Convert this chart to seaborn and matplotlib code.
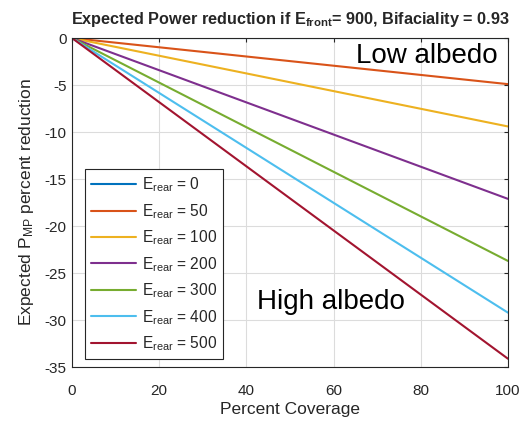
import matplotlib
matplotlib.use("Agg")
import matplotlib.pyplot as plt
import seaborn as sns
import pandas as pd

coverage = [0, 100]
e_rear = [0, 50, 100, 200, 300, 400, 500]
reduction_at_full = [0.0, -4.9, -9.4, -17.1, -23.7, -29.2, -34.1]
colors = ["#0072BD", "#D95319", "#EDB120", "#7E2F8E", "#77AC30", "#4DBEEE", "#A2142F"]

labels = [r"$\mathregular{E_{rear}}$ = " + str(e) for e in e_rear]
rows = []
for lab, r in zip(labels, reduction_at_full):
    for c, v in zip(coverage, [0.0, r]):
        rows.append({"Coverage": c, "Reduction": v, "series": lab})
df = pd.DataFrame(rows)

sns.set_style("white")
plt.rcParams["font.family"] = ["Liberation Sans", "DejaVu Sans"]
plt.rcParams["mathtext.fontset"] = "custom"
plt.rcParams["mathtext.rm"] = "Liberation Sans"
plt.rcParams["mathtext.bf"] = "Liberation Sans:bold"
plt.rcParams["axes.unicode_minus"] = False

fig = plt.figure(figsize=(5.22, 4.23), dpi=100)
ax = fig.add_axes([0.138, 0.132, 0.835, 0.778])
sns.lineplot(data=df, x="Coverage", y="Reduction", hue="series", hue_order=labels,
             palette=colors, linewidth=1.5, ax=ax, legend=True)

ax.set_xlim(0, 100)
ax.set_ylim(-35, 0)
ax.set_xticks([0, 20, 40, 60, 80, 100])
ax.set_yticks([-35, -30, -25, -20, -15, -10, -5, 0])
ax.grid(True, color="#dcdcdc", linewidth=0.8)
ax.set_axisbelow(True)
for s in ax.spines.values():
    s.set_color("#262626")
    s.set_linewidth(0.8)
ax.tick_params(direction="in", length=3, colors="#262626", labelsize=11, top=True, right=True,
               labeltop=False, labelright=False)
ax.tick_params(axis="x", pad=12)
ax.tick_params(axis="y", pad=4)
for lbl in ax.get_xticklabels() + ax.get_yticklabels():
    lbl.set_color("#262626")

ax.set_xlabel("Percent Coverage", fontsize=12.5, color="#262626", labelpad=3)
ax.set_ylabel(r"Expected $\mathregular{P_{MP}}$ percent reduction", fontsize=12.5, color="#262626", labelpad=6)
ax.set_title(r"Expected Power reduction if $\mathbf{E_{front}}$= 900, Bifaciality = 0.93",
             fontsize=11.7, fontweight="bold", pad=10)

ax.text(0.977, 0.945, "Low albedo", transform=ax.transAxes, ha="right", va="center", fontsize=20, color="black")
ax.text(0.424, 0.198, "High albedo", transform=ax.transAxes, ha="left", va="center", fontsize=20, color="black")

leg = ax.legend(loc="lower left", bbox_to_anchor=(0.03, 0.024), fontsize=11.2, frameon=True,
                fancybox=False, edgecolor="#262626", framealpha=1, handlelength=2.9,
                handletextpad=0.35, labelspacing=0.5, borderpad=0.4, borderaxespad=0)
leg.get_frame().set_linewidth(0.8)
for t in leg.get_texts():
    t.set_color("#262626")

fig.savefig("out.png", dpi=100)
